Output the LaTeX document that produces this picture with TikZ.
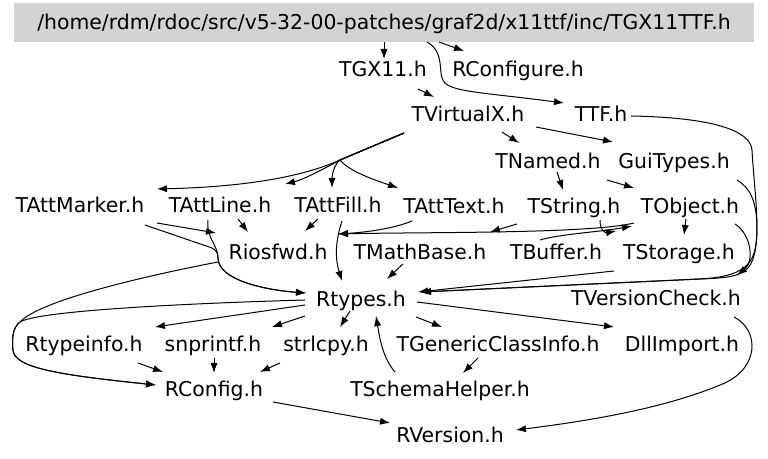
\documentclass[tikz,border=0pt]{standalone}
\usepackage{fontspec}
\setmainfont{DejaVu Sans}
\usetikzlibrary{arrows.meta}
\definecolor{rootgray}{HTML}{D3D3D3}
\tikzset{
  file/.style={inner sep=0pt, text height=7.5pt, text depth=0pt, font=\fontsize{10.2}{12}\selectfont},
  edge/.style={line width=0.5pt, -{Latex[length=5pt,width=3.6pt]}},
}
\begin{document}
\begin{tikzpicture}[x=0.5pt,y=-0.5pt]
                \useasboundingbox (0,0) rectangle (768,459);

                \node[file, fill=rootgray, minimum width=370pt, minimum height=19.5pt] (root) at (384,22.5) {/home/rdm/rdoc/src/v5-32-00-patches/graf2d/x11ttf/inc/TGX11TTF.h};
                \node[file] (tgx) at (383,69) {TGX11.h};
                \node[file] (rconfigure) at (518,69) {RConfigure.h};
                \node[file] (tvx) at (468,114) {TVirtualX.h};
                \node[file] (ttf) at (601,114) {TTF.h};
                \node[file] (tnamed) at (548,161) {TNamed.h};
                \node[file] (gui) at (674,161) {GuiTypes.h};
                \node[file] (tattmarker) at (80,205) {TAttMarker.h};
                \node[file] (tattline) at (220,205) {TAttLine.h};
                \node[file] (tattfill) at (338,205) {TAttFill.h};
                \node[file] (tatttext) at (454,206) {TAttText.h};
                \node[file] (tstring) at (574,206) {TString.h};
                \node[file] (tobject) at (690,206) {TObject.h};
                \node[file] (riosfwd) at (278,252) {Riosfwd.h};
                \node[file] (tmathbase) at (420,252) {TMathBase.h};
                \node[file] (tbuffer) at (556,252) {TBuffer.h};
                \node[file] (tstorage) at (679,252) {TStorage.h};
                \node[file] (rtypes) at (361,299) {Rtypes.h};
                \node[file] (tversion) at (656,298) {TVersionCheck.h};
                \node[file] (rtypeinfo) at (84,344) {Rtypeinfo.h};
                \node[file] (snprintf) at (213,344) {snprintf.h};
                \node[file] (strlcpy) at (326,344) {strlcpy.h};
                \node[file] (tgeneric) at (498,344) {TGenericClassInfo.h};
                \node[file] (dllimport) at (682,344) {DllImport.h};
                \node[file] (rconfig) at (214,389) {RConfig.h};
                \node[file] (tschema) at (440,389) {TSchemaHelper.h};
                \node[file] (rversion) at (450,435) {RVersion.h};

                \draw[edge] ([shift={(0,19.5)}]root.center) -- ([shift={(1,-10)}]tgx.center);
                \draw[edge] ([shift={(55,19.5)}]root.center) -- ([shift={(-54,-18)}]rconfigure.center);
                \draw[edge] ([shift={(43,19.5)}]root.center) .. controls (445,52) and (438,72) .. (443,80) .. controls (448,92) and (480,92) .. ([shift={(-37,-11)}]ttf.center);
                \draw[edge] ([shift={(35,20)}]tgx.center) -- ([shift={(-34,-17)}]tvx.center);
                \draw[edge] ([shift={(34,18)}]tvx.center) -- ([shift={(-29,-18)}]tnamed.center);
                \draw[edge] ([shift={(68,13)}]tvx.center) -- ([shift={(-61,-19)}]gui.center);
                \draw[edge] ([shift={(30,2)}]ttf.center) .. controls (690,117) and (750,125) .. (752,150) .. controls (754,190) and (764,250) .. (748,268) .. controls (740,276) and (730,278) .. (700,279) -- ([shift={(60,-7)}]rtypes.center);
                \draw[edge] ([shift={(63,19)}]gui.center) .. controls (750,188) and (756,200) .. (757,225) .. controls (757,260) and (752,276) .. (700,279) -- ([shift={(60,-7)}]rtypes.center);

                \draw[edge] ([shift={(-64,19)}]tvx.center) -- (340,160) .. controls (300,178) and (240,187) .. ([shift={(77,-16)}]tattmarker.center);
                \draw[edge] ([shift={(-64,19)}]tvx.center) -- (340,160) .. controls (322,170) and (302,180) .. ([shift={(65,-21)}]tattline.center);
                \draw[edge] ([shift={(-64,19)}]tvx.center) -- (340,160) .. controls (334,165) and (332,175) .. ([shift={(-6,-17)}]tattfill.center);
                \draw[edge] ([shift={(-64,19)}]tvx.center) -- (340,160) .. controls (350,172) and (375,180) .. ([shift={(-56,-18)}]tatttext.center);
                \draw[edge] ([shift={(9,11)}]tnamed.center) -- ([shift={(-11,-16)}]tstring.center);
                \draw[edge] ([shift={(59,19)}]tnamed.center) -- ([shift={(-56,-18)}]tobject.center);

                \draw[edge] ([shift={(77,18)}]tattmarker.center) -- ([shift={(-62,-19)}]riosfwd.center);
                \draw[edge] ([shift={(65,20)}]tattmarker.center) -- (212,248) .. controls (218,252) and (218,254) .. (218,258) .. controls (218,280) and (265,290) .. ([shift={(-55,-6)}]rtypes.center);
                \draw[edge] ([shift={(-12,15)}]tattline.center) .. controls (206,238) and (218,245) .. (218,258) .. controls (218,280) and (265,290) .. ([shift={(-55,-6)}]rtypes.center);
                \draw[edge] ([shift={(18,14)}]tattline.center) -- ([shift={(-30,-20)}]riosfwd.center);
                \draw[edge] ([shift={(-20,14)}]tattfill.center) -- ([shift={(27,-21)}]riosfwd.center);
                \draw[edge] ([shift={(4,16)}]tattfill.center) .. controls (334,245) and (336,262) .. ([shift={(-19,-18)}]rtypes.center);
                \draw[edge] ([shift={(-42,15)}]tatttext.center) .. controls (395,228) and (370,232) .. ([shift={(60,-18)}]riosfwd.center);
                \draw[edge] ([shift={(-56,17)}]tobject.center) .. controls (590,234) and (420,232) .. ([shift={(60,-18)}]riosfwd.center);
                \draw[edge] ([shift={(-16,-12)}]tbuffer.center) .. controls (560,234) and (600,232) .. ([shift={(-58,20)}]tobject.center);
                \draw[edge] ([shift={(26,14)}]tstring.center) .. controls (600,230) and (605,233) .. ([shift={(-74,25)}]tobject.center);
                \draw[edge] ([shift={(-57,18)}]tstring.center) -- ([shift={(70,-20)}]tmathbase.center);
                \draw[edge] ([shift={(-4,13)}]tobject.center) -- ([shift={(5,-17)}]tstorage.center);
                \draw[edge] ([shift={(45,18)}]tobject.center) .. controls (752,235) and (754,262) .. ([shift={(81,-23)}]tversion.center);

                \draw[edge] ([shift={(-17,12)}]tmathbase.center) -- ([shift={(26,-20)}]rtypes.center);
                \draw[edge] ([shift={(-65,19)}]tstorage.center) -- ([shift={(57,-7)}]rtypes.center);
                \draw[edge] ([shift={(-56,6)}]rtypes.center) -- ([shift={(71,-17)}]rtypeinfo.center);
                \draw[edge] ([shift={(-56,17)}]rtypes.center) -- ([shift={(59,-17)}]snprintf.center);
                \draw[edge] ([shift={(-11,12)}]rtypes.center) -- ([shift={(14,-17)}]strlcpy.center);
                \draw[edge] ([shift={(55,18)}]rtypes.center) -- ([shift={(-56,-17)}]tgeneric.center);
                \draw[edge] ([shift={(56,3)}]rtypes.center) -- ([shift={(-68,-17)}]dllimport.center);
                \draw[edge] ([shift={(-56,1)}]rtypes.center) .. controls (200,303) and (40,310) .. (20,322) .. controls (12,328) and (12,340) .. (13,350) .. controls (14,368) and (60,375) .. ([shift={(-58,-4)}]rconfig.center);
                \draw[edge] ([shift={(-60,10)}]riosfwd.center) .. controls (150,275) and (40,300) .. (20,322) .. controls (12,328) and (12,340) .. (13,350) .. controls (14,368) and (60,375) .. ([shift={(-58,-4)}]rconfig.center);
                \draw[edge] ([shift={(-45,-17)}]tschema.center) .. controls (383,358) and (380,340) .. ([shift={(15,17)}]rtypes.center);
                \draw[edge] ([shift={(-20,14)}]tgeneric.center) -- ([shift={(23,-16)}]tschema.center);

                \draw[edge] ([shift={(54,19)}]rtypeinfo.center) -- ([shift={(-51,-17)}]rconfig.center);
                \draw[edge] ([shift={(1,14)}]snprintf.center) -- ([shift={(0,-16)}]rconfig.center);
                \draw[edge] ([shift={(-46,19)}]strlcpy.center) -- ([shift={(46,-17)}]rconfig.center);
                \draw[edge] ([shift={(59,13)}]rconfig.center) -- ([shift={(-60,-12)}]rversion.center);
                \draw[edge] ([shift={(78,19)}]tversion.center) .. controls (760,330) and (760,370) .. (720,385) .. controls (660,410) and (580,422) .. ([shift={(66,-5)}]rversion.center);
            \end{tikzpicture}
\end{document}
